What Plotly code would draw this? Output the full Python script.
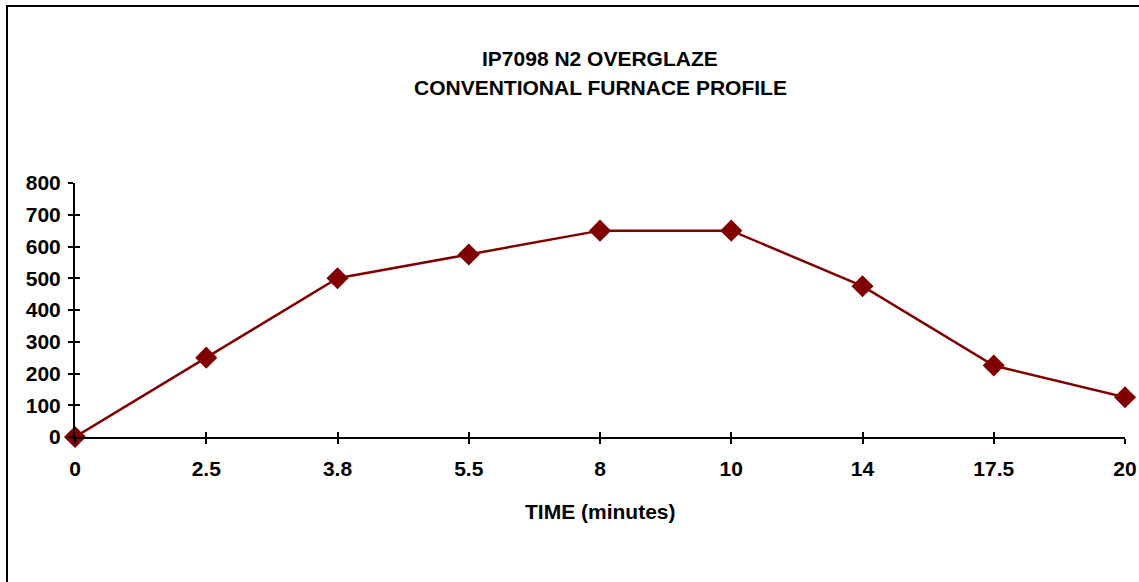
import plotly.graph_objects as go

time_labels = ["0", "2.5", "3.8", "5.5", "8", "10", "14", "17.5", "20"]
temperature = [0, 250, 500, 575, 650, 650, 475, 225, 125]
y_ticks = [0, 100, 200, 300, 400, 500, 600, 700, 800]

title_line1 = "IP7098 N2 OVERGLAZE"
title_line2 = "CONVENTIONAL FURNACE PROFILE"
x_title = "TIME (minutes)"

W, H = 1139, 582
L, T = 75, 183
R = W - 1125
B = H - 437
pw, ph = W - L - R, H - T - B

def px_x(p):  # page pixel -> paper x
    return (p - L) / pw

def px_y(p):  # page pixel -> paper y
    return (H - B - p) / ph

FONT = "Liberation Sans, Arial, sans-serif"
FS = 21
dark_red = "#800000"
idx = list(range(len(time_labels)))

fig = go.Figure()
fig.add_trace(go.Scatter(
    x=idx, y=temperature, mode="lines+markers",
    line=dict(color=dark_red, width=2.5),
    marker=dict(symbol="diamond", size=17, color=dark_red),
    cliponaxis=False, showlegend=False, hoverinfo="x+y",
))
# invisible trace on overlay axes so their inside ticks render
fig.add_trace(go.Scatter(x=idx, y=temperature, xaxis="x2", yaxis="y2",
                         mode="markers", marker=dict(opacity=0),
                         showlegend=False, hoverinfo="skip"))

axis_font = dict(family=FONT, size=FS, color="black", weight="bold")
fig.update_layout(
    width=W, height=H,
    margin=dict(l=L, r=R, t=T, b=B, pad=0, autoexpand=False),
    paper_bgcolor="white", plot_bgcolor="white",
    xaxis=dict(range=[0, len(time_labels) - 1], tickmode="array",
               tickvals=idx, ticktext=time_labels, automargin=False,
               showgrid=False, zeroline=False, showline=True,
               linecolor="black", linewidth=2,
               ticks="outside", ticklen=5, tickwidth=2, tickcolor="black",
               tickfont=axis_font, ticklabelstandoff=7),
    yaxis=dict(range=[0, 800], tickmode="array", tickvals=y_ticks,
               automargin=False,
               showgrid=False, zeroline=False, showline=True,
               linecolor="black", linewidth=2,
               ticks="outside", ticklen=5, tickwidth=2, tickcolor="black",
               tickfont=axis_font, ticklabelstandoff=3),
    xaxis2=dict(overlaying="x", range=[0, len(time_labels) - 1],
                tickmode="array", tickvals=idx, showticklabels=False,
                automargin=False,
                showgrid=False, zeroline=False, showline=False,
                ticks="inside", ticklen=5, tickwidth=2, tickcolor="black",
                side="bottom"),
    yaxis2=dict(overlaying="y", range=[0, 800], tickmode="array",
                tickvals=y_ticks, showticklabels=False, automargin=False,
                showgrid=False, zeroline=False, showline=False,
                ticks="inside", ticklen=5, tickwidth=2, tickcolor="black",
                side="left"),
    shapes=[dict(type="rect", xref="paper", yref="paper",
                 x0=px_x(7), x1=px_x(1160), y0=px_y(600), y1=px_y(6),
                 line=dict(color="black", width=2), fillcolor="rgba(0,0,0,0)",
                 layer="below")],
    annotations=[
        dict(text=title_line1, xref="paper", yref="paper", x=0.5, y=px_y(58),
             xanchor="center", yanchor="middle", showarrow=False,
             font=dict(family=FONT, size=FS, color="black", weight="bold")),
        dict(text=title_line2, xref="paper", yref="paper", x=0.5, y=px_y(87),
             xanchor="center", yanchor="middle", showarrow=False,
             font=dict(family=FONT, size=FS, color="black", weight="bold")),
        dict(text=x_title, xref="paper", yref="paper", x=0.5, y=px_y(511),
             xanchor="center", yanchor="middle", showarrow=False,
             font=dict(family=FONT, size=FS, color="black", weight="bold")),
    ],
)

fig.write_html(
    "out.html",
    config={"displayModeBar": False},
    post_script="document.body.style.margin='0';document.body.style.overflow='hidden';",
)
